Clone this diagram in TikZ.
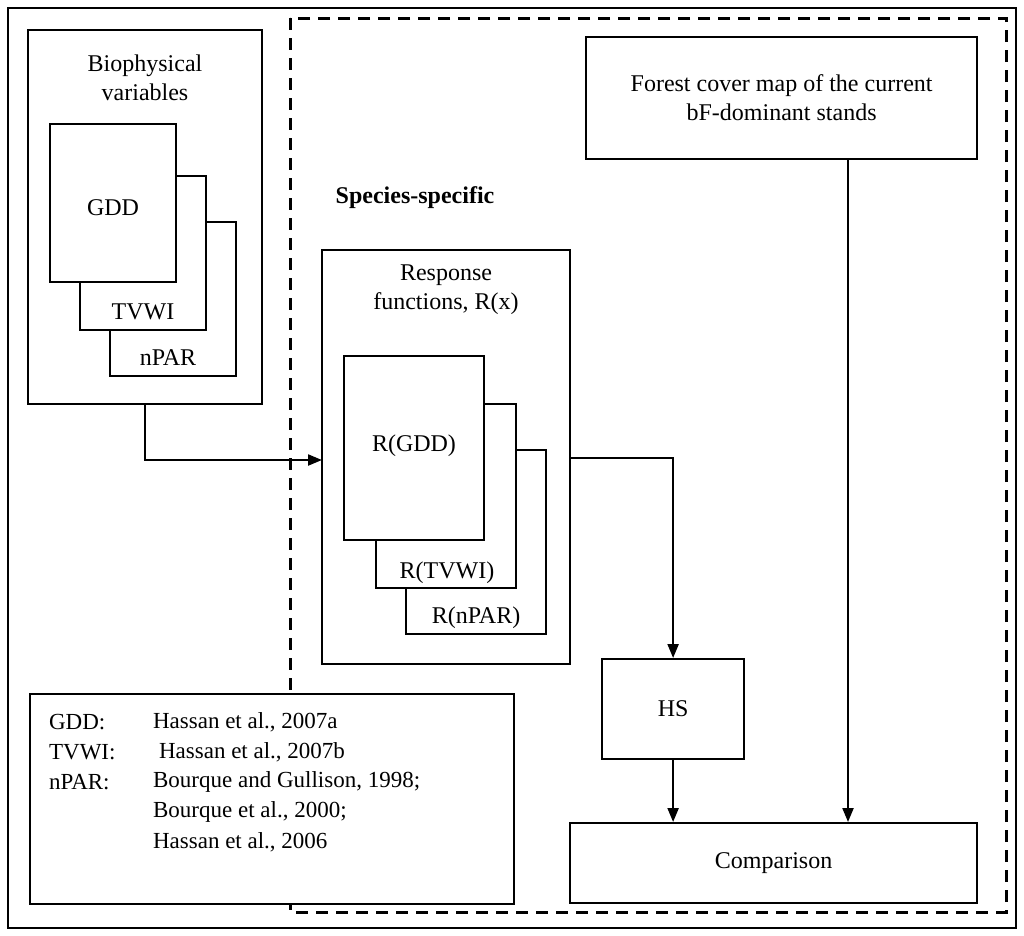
\documentclass[tikz,border=0pt]{standalone}
\usepackage{fontspec}
\setmainfont{Liberation Serif}
\usetikzlibrary{arrows.meta}
\begin{document}
\begin{tikzpicture}[x=1pt,y=-1pt,line width=2.2pt,
  box/.style={draw,fill=white},
  txt/.style={font=\fontsize{24}{29}\selectfont,align=center,inner sep=0pt},
  lt/.style={font=\fontsize{23}{28}\selectfont,anchor=west,inner sep=0pt},
  arr/.style={-{Triangle[length=14pt,width=11pt]}}]
\useasboundingbox (0,0) rectangle (1024,935);
\draw[line width=1.6pt] (8,8) rectangle (1016,928);
\draw[line width=3pt,dash pattern=on 12pt off 8pt] (290,18) rectangle (1006,912);
% biophysical
\draw[box] (28,30) rectangle (262,404);
\node[txt] (bio) at (145,78) {Biophysical\\variables};
\draw[box] (110,222) rectangle (236,376);
\node[txt] (npar) at (168,358) {nPAR};
\draw[box] (80,176) rectangle (206,330);
\node[txt] (tvwi) at (143,312) {TVWI};
\draw[box] (50,124) rectangle (176,282);
\node[txt] (gdd) at (113,208) {GDD};
\coordinate (bioB) at (145,404);
\node[txt,font=\bfseries\fontsize{24}{29}\selectfont] (sp) at (415,198) {Species-specific};
% response
\draw[box] (322,250) rectangle (570,664);
\coordinate (respL) at (322,460);
\coordinate (respR) at (570,458);
\node[txt] (resp) at (446,290) {Response\\functions, R(x)};
\draw[box] (406,450) rectangle (546,634);
\node[txt] (rn) at (476,618) {R(nPAR)};
\draw[box] (376,404) rectangle (516,588);
\node[txt] (rt) at (447,573) {R(TVWI)};
\draw[box] (344,356) rectangle (484,540);
\node[txt] (rg) at (414,446) {R(GDD)};
\draw[arr] (bioB) |- (respL);
% forest
\node[box,txt,minimum width=391pt,minimum height=122pt,anchor=north west] (forest) at (585,36) {Forest cover map of the current\\bF-dominant stands};
\node[box,txt,minimum width=142pt,minimum height=100pt,anchor=north west] (hs) at (601,658) {HS};
\node[box,txt,minimum width=407pt,minimum height=80pt,anchor=north west] (comp) at (569,822) {Comparison};
\draw[arr] (respR) -| (hs.north);
\draw[arr] (hs.south) -- (hs.south|-comp.north);
\draw[arr] (848,158) -- (848,822);
% references
\draw[box] (30,694) rectangle (514,904);
\node[lt] (r1) at (48,722) {GDD:};
\node[lt] at (152,722) {Hassan et al., 2007a};
\node[lt] (r2) at (48,752) {TVWI:};
\node[lt] at (158,752) {Hassan et al., 2007b};
\node[lt] (r3) at (48,782) {nPAR:};
\node[lt] at (152,782) {Bourque and Gullison, 1998;};
\node[lt] at (152,812) {Bourque et al., 2000;};
\node[lt] at (152,842) {Hassan et al., 2006};
\end{tikzpicture}
\end{document}
